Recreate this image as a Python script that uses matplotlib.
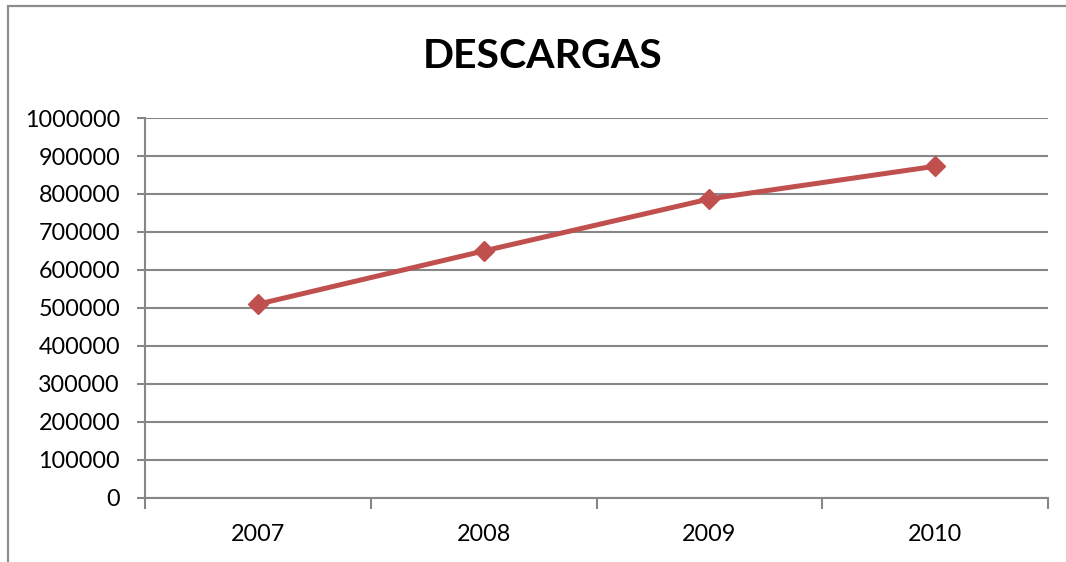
import matplotlib.pyplot as plt
from matplotlib.patches import Rectangle

years = ["2007", "2008", "2009", "2010"]
descargas = [510000, 650000, 787000, 873000]
yticks = list(range(0, 1000001, 100000))

plt.rcParams['font.family'] = ['Lato', 'DejaVu Sans']

W, H = 1066, 562
fig = plt.figure(figsize=(W / 100, H / 100), dpi=100)

# marco del grafico (recortado a la derecha y abajo)
fig.patches.append(Rectangle((8 / W, -0.1), 1.2, (H - 6) / H + 0.1,
                             transform=fig.transFigure, fill=False,
                             edgecolor="#8c8c8c", linewidth=1.6))

ax = fig.add_axes([145 / W, (H - 498) / H, (1048 - 145) / W, (498 - 118) / H])
x = range(len(years))
ax.plot(x, descargas, color="#C0504D", linewidth=3.6, marker="D",
        markersize=10, zorder=3)

ax.set_xlim(-0.5, len(years) - 0.5)
ax.set_ylim(0, 1000000)
ax.set_yticks(yticks)
ax.set_yticklabels([str(v) for v in yticks])
ax.set_xticks(list(x))
ax.set_xticklabels(years)
ax.set_xticks([i - 0.5 for i in range(len(years) + 1)], minor=True)

ax.grid(axis="y", color="#868686", linewidth=1.5)
ax.set_axisbelow(True)
for s in ["top", "right"]:
    ax.spines[s].set_visible(False)
for s in ["left", "bottom"]:
    ax.spines[s].set_color("#868686")
    ax.spines[s].set_linewidth(1.5)

ax.tick_params(axis="y", length=6, width=1.5, color="#868686",
               labelsize=16.8, pad=12)
ax.tick_params(axis="x", which="major", length=0, labelsize=16.8, pad=19)
ax.tick_params(axis="x", which="minor", length=8, width=1.5, color="#868686")

fig.text(543 / W, 1 - 57 / H, "DESCARGAS", ha="center", va="center",
         fontsize=29.5, fontweight="bold")

fig.savefig("out.png", dpi=100)
